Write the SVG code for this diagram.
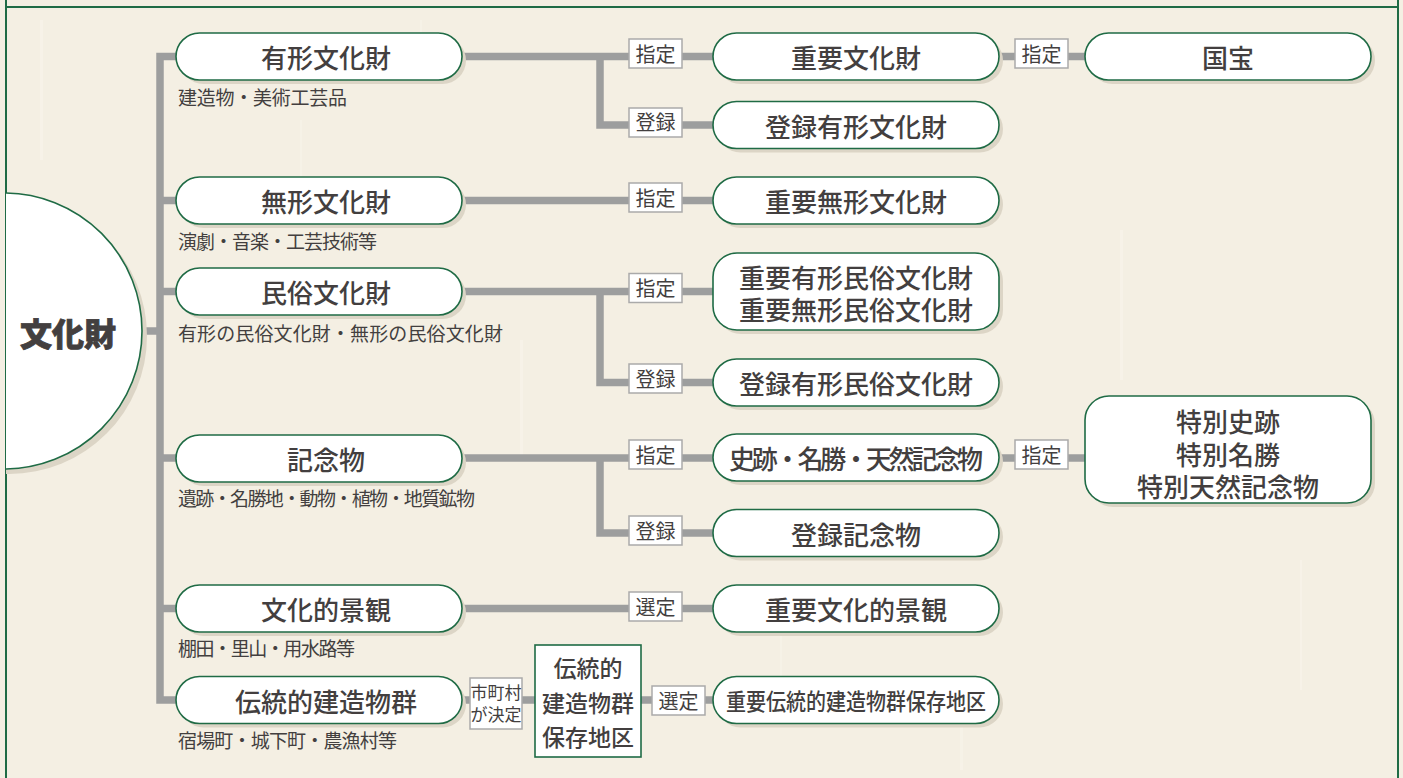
<svg xmlns="http://www.w3.org/2000/svg" width="1403" height="778" viewBox="0 0 1403 778">
<style>
text{font-family:"Noto Sans CJK JP","Noto Sans CJK SC",sans-serif;fill:#433f3f}
.pill{fill:#fff;stroke:#1f6b45;stroke-width:1.6}
.sh{fill:#dcd5c6}
.conn{stroke:#9d9e9e;stroke-width:7.5;fill:none}
.lbl{fill:#fff;stroke:#aaa;stroke-width:1.5}
.t26{font-size:26px;text-anchor:middle;font-weight:500}
.t20{font-size:20px;text-anchor:middle}
.sub{font-size:19px}
.frame{stroke:#1f6b45;stroke-width:2;fill:none}
</style>
<defs>
<clipPath id="cl"><rect x="6" y="8" width="1392" height="770"/></clipPath>
</defs>
<rect width="1403" height="778" fill="#f4efe3"/>
<g opacity="0.35" fill="#fbf8f1">
<rect x="40" y="20" width="3" height="140"/><rect x="300" y="120" width="2" height="90"/><rect x="520" y="340" width="3" height="120"/><rect x="780" y="600" width="2" height="80"/><rect x="1120" y="230" width="3" height="150"/><rect x="1300" y="560" width="2" height="130"/><rect x="420" y="20" width="2" height="60"/><rect x="960" y="700" width="3" height="70"/>
</g>
<g id="frame">
<line class="frame" x1="6" y1="0" x2="6" y2="778"/>
<line class="frame" x1="1398" y1="0" x2="1398" y2="778"/>
<line class="frame" x1="6" y1="7" x2="1398" y2="7"/>
</g>
<g id="connectors">
<path class="conn" d="M142,331 H160 M176,56.5 H160 V700 H176 M160,200.5 H176 M160,291.5 H176 M160,458 H176 M160,608.5 H176"/>
<path class="conn" d="M462,56.5 H713 M600,56.5 V125 H713 M999,56.5 H1085"/>
<path class="conn" d="M462,200.5 H713"/>
<path class="conn" d="M462,291.5 H713 M600,291.5 V382.5 H713"/>
<path class="conn" d="M462,458 H713 M600,458 V533 H713 M999,458 H1085"/>
<path class="conn" d="M462,608.5 H713"/>
<path class="conn" d="M462,700 H713"/>
</g>
<g id="n-bunkazai" clip-path="url(#cl)">
<circle class="sh" cx="9" cy="336" r="138"/>
<circle class="pill" cx="4" cy="331" r="138"/>
<text x="68" y="346" style="font-size:32px;font-weight:900;text-anchor:middle;stroke:#433f3f;stroke-width:0.8">文化財</text>
</g>
<g id="n-yukei"><rect class="sh" x="180" y="37" width="286" height="47" rx="23.5"/><rect class="pill" x="176" y="33" width="286" height="47" rx="23.5"/><text class="t26" x="326" y="68">有形文化財</text><text class="sub" x="178" y="105" textLength="169" lengthAdjust="spacing">建造物・美術工芸品</text></g>
<g id="n-mukei"><rect class="sh" x="180" y="181" width="286" height="47" rx="23.5"/><rect class="pill" x="176" y="177" width="286" height="47" rx="23.5"/><text class="t26" x="326" y="212">無形文化財</text><text class="sub" x="178" y="248.5" textLength="199" lengthAdjust="spacing">演劇・音楽・工芸技術等</text></g>
<g id="n-minzoku"><rect class="sh" x="180" y="272" width="286" height="47" rx="23.5"/><rect class="pill" x="176" y="268" width="286" height="47" rx="23.5"/><text class="t26" x="326" y="303">民俗文化財</text><text class="sub" x="178" y="341" textLength="325" lengthAdjust="spacing">有形の民俗文化財・無形の民俗文化財</text></g>
<g id="n-kinen"><rect class="sh" x="180" y="439" width="286" height="47" rx="23.5"/><rect class="pill" x="176" y="435" width="286" height="47" rx="23.5"/><text class="t26" x="326" y="470">記念物</text><text class="sub" x="178" y="506" textLength="297" lengthAdjust="spacing">遺跡・名勝地・動物・植物・地質鉱物</text></g>
<g id="n-keikan"><rect class="sh" x="180" y="589" width="286" height="47" rx="23.5"/><rect class="pill" x="176" y="585" width="286" height="47" rx="23.5"/><text class="t26" x="326" y="620">文化的景観</text><text class="sub" x="178" y="656" textLength="177" lengthAdjust="spacing">棚田・里山・用水路等</text></g>
<g id="n-dento"><rect class="sh" x="180" y="680.5" width="286" height="47" rx="23.5"/><rect class="pill" x="176" y="676.5" width="286" height="47" rx="23.5"/><text class="t26" x="326" y="711.5">伝統的建造物群</text><text class="sub" x="178" y="748" textLength="219" lengthAdjust="spacing">宿場町・城下町・農漁村等</text></g>
<g id="labels">
<g id="l1"><rect class="lbl" x="629" y="39" width="53" height="29"/><text class="t20" x="655.5" y="62">指定</text></g>
<g id="l2"><rect class="lbl" x="629" y="108" width="53" height="29"/><text class="t20" x="655.5" y="130">登録</text></g>
<g id="l3"><rect class="lbl" x="629" y="183" width="53" height="29"/><text class="t20" x="655.5" y="205.5">指定</text></g>
<g id="l4"><rect class="lbl" x="629" y="273.5" width="53" height="29"/><text class="t20" x="655.5" y="296">指定</text></g>
<g id="l5"><rect class="lbl" x="629" y="364" width="53" height="29"/><text class="t20" x="655.5" y="386.5">登録</text></g>
<g id="l6"><rect class="lbl" x="629" y="440" width="53" height="29"/><text class="t20" x="655.5" y="462.5">指定</text></g>
<g id="l7"><rect class="lbl" x="629" y="516" width="53" height="29"/><text class="t20" x="655.5" y="538.5">登録</text></g>
<g id="l8"><rect class="lbl" x="629" y="592" width="53" height="29"/><text class="t20" x="655.5" y="614.5">選定</text></g>
<g id="l9"><rect class="lbl" x="1015" y="39" width="53" height="29"/><text class="t20" x="1041.5" y="62">指定</text></g>
<g id="l10"><rect class="lbl" x="1015" y="440" width="53" height="29"/><text class="t20" x="1041.5" y="462.5">指定</text></g>
<g id="l11"><rect class="lbl" x="652" y="686" width="53" height="29"/><text class="t20" x="678.5" y="708.5">選定</text></g>
<g id="l12"><rect class="lbl" x="470" y="678" width="52" height="51"/><text style="font-size:17px;text-anchor:middle"><tspan x="496" y="699">市町村</tspan><tspan x="496" y="721">が決定</tspan></text></g>
</g>
<g id="n-hozonchiku"><rect class="pill" x="535" y="645" width="106" height="112"/><text style="font-size:23px;text-anchor:middle;font-weight:500"><tspan x="588" y="677">伝統的</tspan><tspan x="588" y="712">建造物群</tspan><tspan x="588" y="746">保存地区</tspan></text></g>
<g id="n-juyo"><rect class="sh" x="717" y="37" width="286" height="47" rx="23.5"/><rect class="pill" x="713" y="33" width="286" height="47" rx="23.5"/><text class="t26" x="856" y="68">重要文化財</text></g>
<g id="n-toroku"><rect class="sh" x="717" y="105.5" width="286" height="47" rx="23.5"/><rect class="pill" x="713" y="101.5" width="286" height="47" rx="23.5"/><text class="t26" x="856" y="136.5">登録有形文化財</text></g>
<g id="n-juyomukei"><rect class="sh" x="717" y="181" width="286" height="47" rx="23.5"/><rect class="pill" x="713" y="177" width="286" height="47" rx="23.5"/><text class="t26" x="856" y="212">重要無形文化財</text></g>
<g id="n-juyominzoku"><rect class="sh" x="717" y="257" width="286" height="77" rx="24"/><rect class="pill" x="713" y="253" width="286" height="77" rx="24"/><text class="t26"><tspan x="856" y="288">重要有形民俗文化財</tspan><tspan x="856" y="320">重要無形民俗文化財</tspan></text></g>
<g id="n-torokuminzoku"><rect class="sh" x="717" y="363" width="286" height="47" rx="23.5"/><rect class="pill" x="713" y="359" width="286" height="47" rx="23.5"/><text class="t26" x="856" y="394">登録有形民俗文化財</text></g>
<g id="n-shiseki"><rect class="sh" x="717" y="438" width="286" height="47" rx="23.5"/><rect class="pill" x="713" y="434" width="286" height="47" rx="23.5"/><text class="t26" x="856" y="469" textLength="254" lengthAdjust="spacing">史跡・名勝・天然記念物</text></g>
<g id="n-torokukinen"><rect class="sh" x="717" y="513.5" width="286" height="47" rx="23.5"/><rect class="pill" x="713" y="509.5" width="286" height="47" rx="23.5"/><text class="t26" x="856" y="544.5">登録記念物</text></g>
<g id="n-juyokeikan"><rect class="sh" x="717" y="589" width="286" height="47" rx="23.5"/><rect class="pill" x="713" y="585" width="286" height="47" rx="23.5"/><text class="t26" x="856" y="620">重要文化的景観</text></g>
<g id="n-juyodento"><rect class="sh" x="717" y="680.5" width="286" height="47" rx="23.5"/><rect class="pill" x="713" y="676.5" width="286" height="47" rx="23.5"/><text x="856" y="709.5" style="font-size:23px;text-anchor:middle;font-weight:500" textLength="260" lengthAdjust="spacingAndGlyphs">重要伝統的建造物群保存地区</text></g>
<g id="n-kokuho"><rect class="sh" x="1089" y="37" width="286" height="47" rx="23.5"/><rect class="pill" x="1085" y="33" width="286" height="47" rx="23.5"/><text class="t26" x="1228" y="68">国宝</text></g>
<g id="n-tokubetsu"><rect class="sh" x="1089" y="400" width="286" height="107" rx="24"/><rect class="pill" x="1085" y="396" width="286" height="107" rx="24"/><text class="t26"><tspan x="1228" y="432">特別史跡</tspan><tspan x="1228" y="465">特別名勝</tspan><tspan x="1228" y="497">特別天然記念物</tspan></text></g>
</svg>
